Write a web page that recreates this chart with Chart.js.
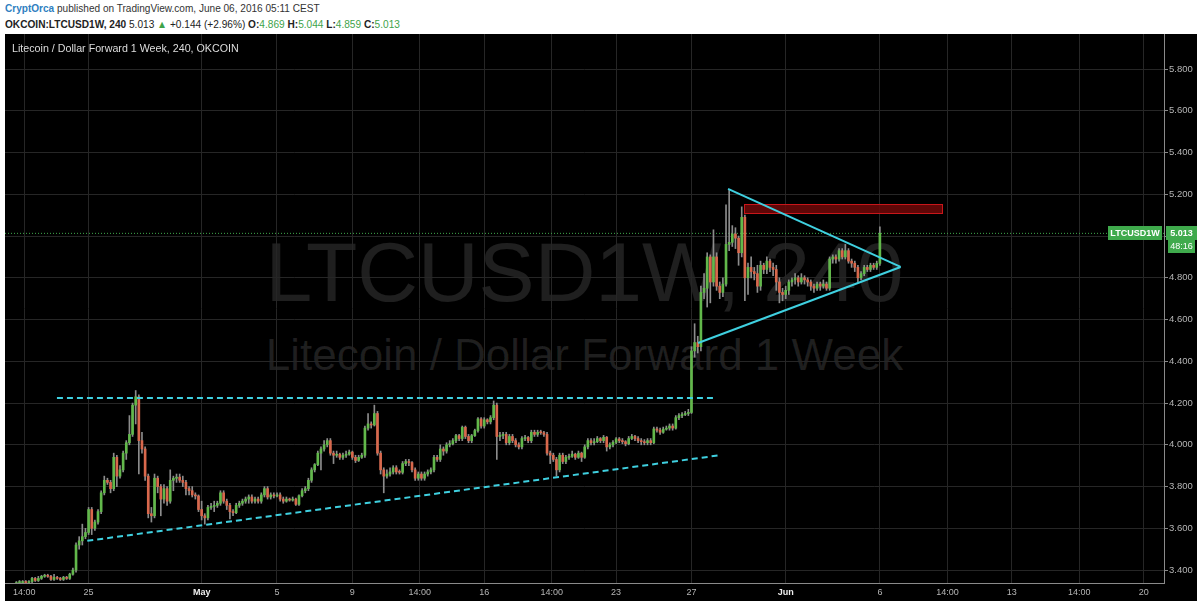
<!DOCTYPE html>
<html>
<head>
<meta charset="utf-8">
<script src="https://cdn.jsdelivr.net/npm/chart.js@4.4.1/dist/chart.umd.min.js"></script>
<style>
  body { margin: 0; width: 1200px; height: 604px; overflow: hidden; position: relative; background: #fff; font-family: "Liberation Sans", Arial, sans-serif; }
  #head1 { position: absolute; left: 5px; top: 2px; font-size: 11.5px; color: #333; white-space: nowrap; transform: scaleX(0.875); transform-origin: left top; }
  #head1 b { color: #2f7fc1; }
  #head2 { position: absolute; left: 5px; top: 18px; font-size: 10.5px; color: #222; white-space: nowrap; transform: scaleX(0.963); transform-origin: left top; }
  #head2 .g { color: #3ea34a; }
  #panel { position: absolute; left: 5px; top: 34px; width: 1192px; height: 567px; background: #000; }
  .wm { position: absolute; left: 5px; width: 1159px; text-align: center; color: rgba(255,255,255,0.12); white-space: nowrap; }
  #wm1 { top: 222px; font-size: 84px; line-height: 100px; }
  #wm2 { top: 327px; font-size: 44px; line-height: 56px; }
  #title { position: absolute; left: 12px; top: 42px; font-size: 10.7px; color: #ddd; white-space: nowrap; }
  canvas { position: absolute; left: 0; top: 0; }
</style>
</head>
<body>
<div id="head1"><b>CryptOrca</b> published on TradingView.com, June 06, 2016 05:11 CEST</div>
<div id="head2"><b>OKCOIN:LTCUSD1W, 240</b> 5.013 <span class="g">&#9650;</span> +0.144 (+2.96%) <b>O:</b><span class="g">4.869</span> <b>H:</b><span class="g">5.044</span> <b>L:</b><span class="g">4.859</span> <b>C:</b><span class="g">5.013</span></div>
<div id="panel"></div>
<div class="wm" id="wm1">LTCUSD1W, 240</div>
<div class="wm" id="wm2">Litecoin / Dollar Forward 1 Week</div>
<canvas id="chart" width="1200" height="604"></canvas>
<div id="title">Litecoin / Dollar Forward 1 Week, 240, OKCOIN</div>

<script>
// x axis is in days counted from Apr 25 00:00, one candle every 4 hours
const xTickPos = [-3.417, 0, 6, 10, 14, 17.583, 21, 24.583, 28, 32, 37, 42, 45.583, 49, 52.583, 56];
const xTickLabels = ["14:00", "25", "May", "5", "9", "14:00", "16", "14:00", "23", "27", "Jun", "6", "14:00", "13", "14:00", "20"];
const yTicks = [3.4, 3.6, 3.8, 4.0, 4.2, 4.4, 4.6, 4.8, 5.0, 5.2, 5.4, 5.6, 5.8];

const candleStart = -23 / 6;
const candleStep = 1 / 6;
const firstOpen = 3.335;

const closes = [
  3.34, 3.34, 3.345, 3.34, 3.345, 3.36, 3.35, 3.36, 3.37, 3.375,
  3.37, 3.355, 3.365, 3.36, 3.355, 3.365, 3.36, 3.38, 3.40, 3.52,
  3.54, 3.56, 3.58, 3.69, 3.60, 3.63, 3.68, 3.77, 3.83, 3.82,
  3.79, 3.94, 3.85, 3.88, 3.96, 4.01, 4.05, 4.19, 4.23, 4.02,
  3.98, 3.85, 3.67, 3.66, 3.84, 3.80, 3.74, 3.79, 3.73, 3.83,
  3.84, 3.845, 3.83, 3.82, 3.79, 3.78, 3.76, 3.755, 3.69, 3.66,
  3.65, 3.70, 3.705, 3.71, 3.72, 3.77, 3.73, 3.71, 3.68, 3.675,
  3.71, 3.72, 3.73, 3.74, 3.75, 3.73, 3.74, 3.73, 3.76, 3.79,
  3.75, 3.76, 3.755, 3.76, 3.74, 3.73, 3.74, 3.735, 3.74, 3.715,
  3.756, 3.78, 3.79, 3.83, 3.88, 3.905, 3.96, 3.98, 4.00, 4.02,
  3.96, 3.95, 3.955, 3.94, 3.95, 3.955, 3.965, 3.94, 3.925, 3.94,
  3.95, 4.08, 4.10, 4.095, 4.15, 3.96, 3.88, 3.85, 3.86, 3.87,
  3.89, 3.87, 3.868, 3.91, 3.92, 3.915, 3.88, 3.84, 3.86, 3.84,
  3.86, 3.87, 3.88, 3.94, 3.93, 3.98, 3.97, 4.00, 4.005, 4.02,
  4.044, 4.03, 4.084, 4.04, 4.02, 4.044, 4.068, 4.124, 4.09, 4.12,
  4.11, 4.13, 4.19, 4.04, 4.045, 4.05, 4.01, 4.04, 4.02, 4.00,
  3.99, 4.03, 4.035, 4.02, 4.06, 4.05, 4.06, 4.058, 4.05, 3.96,
  3.95, 3.93, 3.88, 3.95, 3.92, 3.94, 3.945, 3.955, 3.94, 3.96,
  3.94, 3.99, 4.02, 4.01, 4.015, 4.03, 4.02, 4.036, 3.99, 4.00,
  4.012, 4.028, 4.02, 4.015, 4.005, 4.03, 4.04, 4.03, 4.02, 4.015,
  4.01, 4.02, 4.01, 4.076, 4.07, 4.06, 4.075, 4.08, 4.09, 4.08,
  4.13, 4.14, 4.145, 4.15, 4.155, 4.45, 4.49, 4.47, 4.73, 4.75,
  4.90, 4.78, 4.90, 4.76, 4.73, 4.77, 4.96, 4.97, 5.01, 4.99,
  4.92, 5.09, 4.80, 4.85, 4.83, 4.82, 4.76, 4.86, 4.84, 4.88,
  4.85, 4.84, 4.78, 4.73, 4.72, 4.74, 4.78, 4.79, 4.80, 4.78,
  4.80, 4.79, 4.78, 4.76, 4.75, 4.77, 4.76, 4.77, 4.75, 4.89,
  4.90, 4.89, 4.93, 4.90, 4.93, 4.88, 4.87, 4.85, 4.80, 4.82,
  4.85, 4.84, 4.86, 4.85, 4.869, 5.013
];

const highs = [
  3.345, 3.35, 3.35, 3.35, 3.35, 3.365, 3.365, 3.37, 3.375, 3.38,
  3.38, 3.375, 3.38, 3.37, 3.365, 3.37, 3.37, 3.385, 3.41, 3.53,
  3.56, 3.62, 3.60, 3.70, 3.70, 3.64, 3.69, 3.78, 3.85, 3.84,
  3.83, 3.96, 3.95, 3.90, 3.97, 4.02, 4.14, 4.20, 4.26, 4.24,
  4.06, 3.99, 3.86, 3.70, 3.86, 3.85, 3.81, 3.81, 3.80, 3.88,
  3.85, 3.86, 3.86, 3.85, 3.83, 3.80, 3.80, 3.77, 3.76, 3.73,
  3.67, 3.71, 3.72, 3.73, 3.73, 3.78, 3.78, 3.74, 3.72, 3.69,
  3.72, 3.73, 3.74, 3.75, 3.76, 3.76, 3.75, 3.75, 3.77, 3.80,
  3.80, 3.77, 3.77, 3.77, 3.77, 3.75, 3.75, 3.745, 3.75, 3.745,
  3.76, 3.79, 3.80, 3.84, 3.89, 3.91, 3.97, 3.99, 4.02, 4.03,
  4.03, 3.97, 3.97, 3.96, 3.96, 3.97, 3.975, 3.97, 3.95, 3.95,
  3.96, 4.09, 4.15, 4.11, 4.19, 4.16, 3.97, 3.89, 3.88, 3.89,
  3.90, 3.90, 3.88, 3.92, 3.93, 3.93, 3.92, 3.89, 3.87, 3.87,
  3.87, 3.88, 3.89, 3.95, 3.95, 4.00, 3.99, 4.01, 4.02, 4.03,
  4.05, 4.05, 4.09, 4.09, 4.05, 4.05, 4.075, 4.13, 4.13, 4.13,
  4.125, 4.14, 4.21, 4.20, 4.06, 4.06, 4.06, 4.05, 4.05, 4.03,
  4.01, 4.04, 4.045, 4.04, 4.07, 4.07, 4.07, 4.07, 4.065, 4.06,
  3.97, 3.96, 3.94, 3.96, 3.96, 3.95, 3.955, 3.97, 3.96, 3.97,
  3.965, 4.00, 4.03, 4.03, 4.03, 4.04, 4.035, 4.045, 4.04, 4.01,
  4.02, 4.035, 4.035, 4.03, 4.02, 4.04, 4.05, 4.045, 4.04, 4.03,
  4.025, 4.03, 4.03, 4.085, 4.085, 4.08, 4.085, 4.09, 4.10, 4.10,
  4.14, 4.15, 4.155, 4.16, 4.17, 4.47, 4.58, 4.52, 4.76, 4.82,
  4.92, 4.91, 5.03, 4.92, 4.78, 4.80, 5.15, 5.22, 5.05, 5.04,
  5.00, 5.14, 5.10, 4.87, 4.90, 4.85, 4.86, 4.88, 4.87, 4.90,
  4.89, 4.87, 4.86, 4.80, 4.75, 4.76, 4.79, 4.80, 4.82, 4.81,
  4.82, 4.81, 4.80, 4.79, 4.77, 4.78, 4.78, 4.79, 4.78, 4.90,
  4.91, 4.91, 4.94, 4.94, 4.96, 4.94, 4.89, 4.88, 4.86, 4.83,
  4.86, 4.86, 4.87, 4.87, 4.88, 5.044
];

const lows = [
  3.33, 3.335, 3.335, 3.335, 3.34, 3.34, 3.345, 3.345, 3.355, 3.365,
  3.365, 3.35, 3.35, 3.355, 3.35, 3.35, 3.355, 3.355, 3.375, 3.39,
  3.50, 3.52, 3.55, 3.57, 3.57, 3.59, 3.62, 3.67, 3.76, 3.81,
  3.77, 3.78, 3.80, 3.84, 3.87, 3.93, 4.00, 4.04, 4.10, 3.86,
  3.96, 3.83, 3.65, 3.63, 3.65, 3.77, 3.66, 3.72, 3.71, 3.72,
  3.78, 3.82, 3.82, 3.80, 3.76, 3.76, 3.75, 3.74, 3.68, 3.64,
  3.62, 3.64, 3.69, 3.68, 3.70, 3.71, 3.72, 3.69, 3.645, 3.66,
  3.67, 3.70, 3.71, 3.72, 3.72, 3.72, 3.72, 3.72, 3.72, 3.75,
  3.74, 3.74, 3.745, 3.75, 3.73, 3.72, 3.725, 3.73, 3.73, 3.71,
  3.71, 3.75, 3.77, 3.78, 3.82, 3.87, 3.90, 3.88, 3.97, 3.99,
  3.95, 3.91, 3.94, 3.93, 3.93, 3.94, 3.95, 3.93, 3.915, 3.92,
  3.935, 3.94, 4.07, 4.08, 4.09, 3.95, 3.86, 3.77, 3.84, 3.85,
  3.86, 3.86, 3.86, 3.86, 3.90, 3.90, 3.87, 3.83, 3.83, 3.83,
  3.83, 3.85, 3.86, 3.87, 3.92, 3.92, 3.95, 3.96, 3.99, 4.00,
  4.01, 4.02, 4.02, 4.03, 4.01, 4.01, 4.04, 4.06, 4.08, 4.08,
  4.10, 4.10, 4.12, 3.93, 4.02, 4.03, 4.00, 4.00, 4.01, 3.99,
  3.98, 3.98, 4.02, 4.01, 4.01, 4.04, 4.04, 4.05, 4.04, 3.95,
  3.91, 3.92, 3.85, 3.87, 3.91, 3.91, 3.93, 3.94, 3.93, 3.935,
  3.92, 3.935, 3.98, 4.00, 4.00, 4.01, 4.01, 4.01, 3.97, 3.98,
  3.99, 4.005, 4.01, 4.005, 3.995, 4.00, 4.025, 4.02, 4.01, 4.00,
  4.00, 4.00, 4.00, 4.005, 4.06, 4.05, 4.055, 4.07, 4.07, 4.07,
  4.075, 4.12, 4.13, 4.14, 4.14, 4.15, 4.42, 4.44, 4.45, 4.70,
  4.66, 4.68, 4.76, 4.74, 4.70, 4.71, 4.76, 4.93, 4.95, 4.94,
  4.86, 4.90, 4.69, 4.72, 4.80, 4.79, 4.73, 4.74, 4.82, 4.82,
  4.83, 4.81, 4.74, 4.68, 4.69, 4.70, 4.72, 4.76, 4.77, 4.76,
  4.77, 4.77, 4.76, 4.74, 4.73, 4.74, 4.74, 4.75, 4.74, 4.74,
  4.87, 4.87, 4.88, 4.89, 4.89, 4.87, 4.85, 4.83, 4.78, 4.79,
  4.81, 4.83, 4.83, 4.84, 4.84, 4.859
];

// drawings on the chart, [day, price]
const supportTop = [[-1.68, 4.224], [33.25, 4.224]];
const risingLine = [[-0.07, 3.54], [33.5, 3.95]];
const triangleTop = [[33.94, 5.226], [43.1, 4.852]];
const triangleBottom = [[32.35, 4.488], [43.1, 4.852]];
const resistBox = [34.79, 45.3, 5.109, 5.152];
const lastPrice = 5.013;
const countdown = "48:16";

const xMin = -4.437, xMax = 57.08;
const yMin = 3.338, yMax = 5.968;

const GREEN = "#62b84b";
const RED = "#d9684c";
const WICK = "#8c8c8c";
const CYAN = "#3fd0e0";

const opens = closes.map((c, i) => (i === 0 ? firstOpen : closes[i - 1]));
const times = closes.map((c, i) => candleStart + i * candleStep);

const wickData = times.map((t, i) => ({ x: t, y: [lows[i], highs[i]] }));
const bodyData = times.map((t, i) => ({ x: t, y: [opens[i], closes[i]] }));
const bodyColors = closes.map((c, i) => (c >= opens[i] ? GREEN : RED));

const toPts = arr => arr.map(p => ({ x: p[0], y: p[1] }));

function lineSet(points, dash, width) {
  return {
    type: "line",
    data: toPts(points),
    borderColor: CYAN,
    borderWidth: width,
    borderDash: dash,
    pointRadius: 0,
    order: -1
  };
}

const boxPlugin = {
  id: "resistBox",
  beforeDatasetsDraw(chart) {
    const { ctx, scales: { x, y } } = chart;
    const x1 = x.getPixelForValue(resistBox[0]);
    const x2 = x.getPixelForValue(resistBox[1]);
    const y1 = y.getPixelForValue(resistBox[3]);
    const y2 = y.getPixelForValue(resistBox[2]);
    ctx.save();
    ctx.fillStyle = "rgba(110,8,8,0.85)";
    ctx.fillRect(x1, y1, x2 - x1, y2 - y1);
    ctx.strokeStyle = "#c8161a";
    ctx.lineWidth = 1;
    ctx.strokeRect(Math.round(x1) + 0.5, Math.round(y1) + 0.5, Math.round(x2 - x1), Math.round(y2 - y1));
    ctx.restore();
  }
};

const priceLabelPlugin = {
  id: "priceLabel",
  afterDraw(chart) {
    const { ctx, chartArea, scales: { y } } = chart;
    const py = Math.round(y.getPixelForValue(lastPrice));
    ctx.save();
    ctx.font = "bold 9px 'Liberation Sans', Arial, sans-serif";
    ctx.textBaseline = "middle";
    ctx.fillStyle = "#3faa4c";
    ctx.fillRect(chartArea.right - 56, py - 7, 54, 14);
    ctx.fillRect(chartArea.right + 2, py - 7, 31, 14);
    ctx.fillRect(chartArea.right + 4, py + 7, 27, 13);
    ctx.fillStyle = "#fff";
    ctx.textAlign = "center";
    ctx.fillText("LTCUSD1W", chartArea.right - 29, py + 0.5);
    ctx.fillText(lastPrice.toFixed(3), chartArea.right + 17.5, py + 0.5);
    ctx.font = "9px 'Liberation Sans', Arial, sans-serif";
    ctx.fillText(countdown, chartArea.right + 17.5, py + 13.5);
    ctx.restore();
  }
};

new Chart(document.getElementById("chart"), {
  type: "bar",
  data: {
    datasets: [
      {
        data: bodyData,
        backgroundColor: bodyColors,
        barThickness: 2,
        minBarLength: 1,
        grouped: false,
        order: 0
      },
      {
        data: wickData,
        backgroundColor: WICK,
        barThickness: 1,
        grouped: false,
        order: 1
      },
      {
        type: "line",
        data: [{ x: xMin, y: lastPrice }, { x: xMax, y: lastPrice }],
        borderColor: "#3faa4c",
        borderWidth: 1,
        borderDash: [1, 2],
        pointRadius: 0,
        order: 2
      },
      lineSet(supportTop, [6, 4], 2),
      lineSet(risingLine, [6, 4], 2),
      lineSet(triangleTop, [], 2),
      lineSet(triangleBottom, [], 2)
    ]
  },
  options: {
    responsive: false,
    devicePixelRatio: 1,
    animation: false,
    layout: { padding: { left: 5, top: 34, right: 0, bottom: 4 } },
    plugins: { legend: { display: false }, tooltip: { enabled: false } },
    scales: {
      x: {
        type: "linear",
        offset: false,
        min: xMin,
        max: xMax,
        afterBuildTicks: s => { s.ticks = xTickPos.map(v => ({ value: v })); },
        afterFit: s => { s.height = 17; s.paddingLeft = 0; s.paddingRight = 0; },
        grid: { color: "#262626", tickLength: 0, offset: false },
        border: { color: "#8a8a8a" },
        ticks: {
          padding: 4,
          autoSkip: false,
          maxRotation: 0,
          callback: (v, i) => xTickLabels[i],
          color: ctx => (ctx.index === 2 || ctx.index === 10 ? "#eee" : "#b5b5b5"),
          font: ctx => ({
            family: "'Liberation Sans', Arial, sans-serif",
            size: 9,
            weight: ctx.index === 2 || ctx.index === 10 ? "bold" : "normal"
          })
        }
      },
      y: {
        position: "right",
        min: yMin,
        max: yMax,
        afterBuildTicks: s => { s.ticks = yTicks.map(v => ({ value: v })); },
        afterFit: s => { s.width = 36; s.paddingTop = 0; s.paddingBottom = 0; },
        grid: { color: "#262626", tickLength: 4, tickColor: "#888" },
        border: { color: "#8a8a8a" },
        ticks: {
          padding: 1,
          color: "#b5b5b5",
          font: { family: "'Liberation Sans', Arial, sans-serif", size: 9.5 },
          callback: v => v.toFixed(3)
        }
      }
    }
  },
  plugins: [boxPlugin, priceLabelPlugin]
});
</script>
</body>
</html>
